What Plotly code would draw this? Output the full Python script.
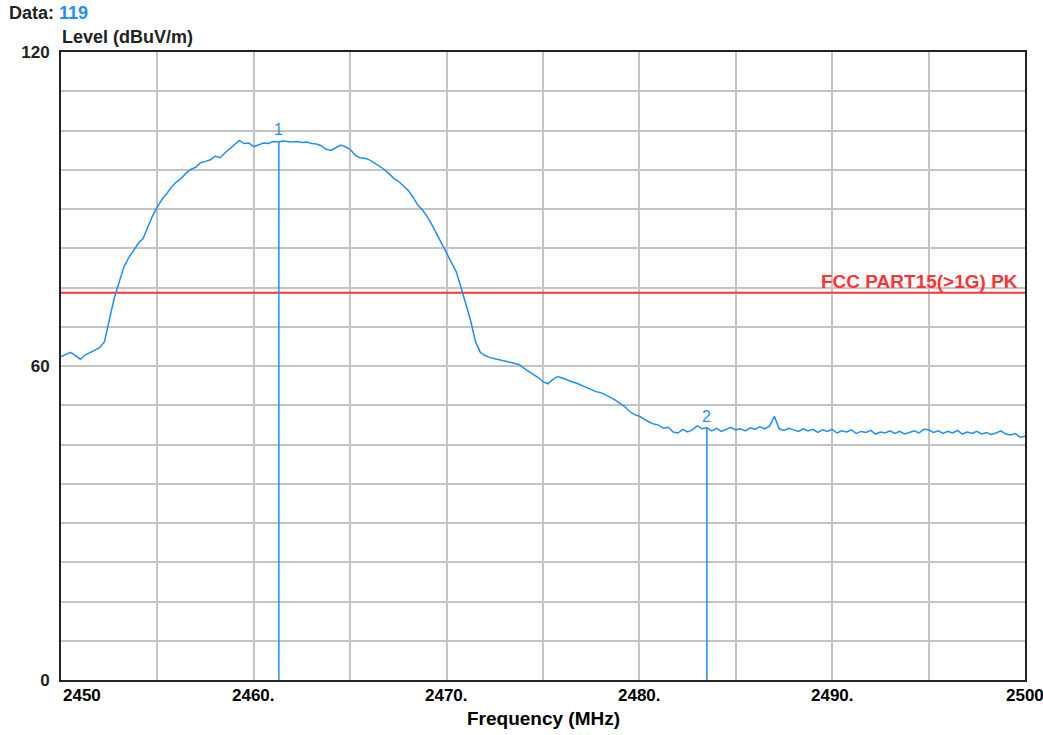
import plotly.graph_objects as go

# sweep: 2450 - 2500 MHz, 0.25 MHz step
freq = [round(2450 + 0.25 * i, 2) for i in range(201)]
level = [
    61.8, 62.2, 62.6, 62.0, 61.3, 62.1, 62.6, 63.0, 63.5, 64.6,   # 2450.00 - 2452.25
    69.0, 72.8, 75.8, 78.8, 80.6, 82.0, 83.4, 84.3, 86.4, 88.7,   # 2452.50 - 2454.75
    90.4, 91.9, 93.0, 94.3, 95.2, 95.9, 96.9, 97.6, 98.0, 98.9,   # 2455.00 - 2457.25
    99.1, 99.4, 100.1, 99.8, 100.7, 101.5, 102.4, 103.1, 102.5, 102.6,
    101.9, 102.2, 102.6, 102.5, 102.9, 102.8, 103.0, 102.9, 102.8, 102.9,
    102.7, 102.8, 102.5, 102.4, 102.1, 101.4, 101.2, 101.7, 102.2, 101.9,
    101.4, 100.3, 99.8, 99.7, 99.4, 98.8, 98.2, 97.6, 96.8, 95.9,
    95.3, 94.5, 93.6, 92.3, 90.8, 89.8, 88.5, 86.9, 85.1, 83.5,
    81.7, 80.0, 78.0, 75.0, 72.0, 68.6, 64.6, 62.6, 62.0, 61.6,
    61.4, 61.2, 61.0, 60.7, 60.5, 60.3, 59.6, 59.0, 58.5, 57.8,
    57.0, 56.6, 57.4, 58.0, 57.7, 57.3, 57.0, 56.7, 56.3, 55.9,
    55.6, 55.1, 54.9, 54.5, 54.0, 53.5, 52.9, 52.2, 51.3, 50.7,
    50.4, 49.8, 49.3, 48.9, 48.7, 48.1, 48.3, 47.4, 47.2, 47.9,
    47.4, 47.8, 48.6, 48.0, 48.2, 47.6, 48.1, 47.5, 47.9, 48.3,
    47.8, 48.0, 47.6, 48.2, 47.9, 48.4, 48.0, 48.5, 50.4, 48.0,
    47.7, 48.1, 47.8, 47.5, 48.0, 47.6, 47.9, 47.3, 47.8, 47.5,
    47.9, 47.2, 47.6, 47.4, 47.8, 47.1, 47.5, 47.3, 47.7, 47.0,
    47.4, 47.2, 47.6, 47.1, 47.5, 47.0, 47.3, 47.6, 47.2, 47.9,
    47.8, 47.3, 47.6, 47.1, 47.5, 47.2, 47.7, 47.0, 47.4, 47.1,
    47.5, 47.0, 47.3, 46.9, 47.2, 47.6, 47.0, 46.8, 47.1, 46.4,
    46.6,
]

limit_level = 74
limit_name = "FCC PART15(>1G) PK"

marker_names = ["1", "2"]
marker_freq = [2461.3, 2483.5]
marker_level = [102.9, 48.2]

x_tick_vals = [2450, 2460, 2470, 2480, 2490, 2500]
x_tick_text = ["2450", "2460.", "2470.", "2480.", "2490.", "2500"]
y_tick_vals = [0, 60, 120]
y_tick_text = ["0", "60", "120"]

blue = "#1E8FFF"
red = "#FF3333"
grid = "#C4C4C4"
sans = "Liberation Sans, Arial"

fig = go.Figure()

fig.add_trace(go.Scatter(x=[freq[0], freq[-1]], y=[limit_level, limit_level], mode="lines",
                         line=dict(color=red, width=2), hoverinfo="skip"))

fig.add_trace(go.Scatter(x=freq, y=level, mode="lines",
                         line=dict(color=blue, width=1.5)))

for f, lv in zip(marker_freq, marker_level):
    fig.add_trace(go.Scatter(x=[f, f], y=[0, lv], mode="lines",
                             line=dict(color=blue, width=1.5), hoverinfo="skip"))

annotations = []
for name, f, lv in zip(marker_names, marker_freq, marker_level):
    annotations.append(dict(x=f, y=lv, text=name, showarrow=False, yanchor="bottom", yshift=1,
                            font=dict(family=sans, size=16, color=blue)))

for i, (v, t) in enumerate(zip(x_tick_vals, x_tick_text)):
    annotations.append(dict(x=v, y=0, yref="paper", text=t, showarrow=False,
                            xanchor="left" if i == 0 else "center", yanchor="top", yshift=-4,
                            font=dict(family=sans, size=17, color="black", weight="bold")))

annotations += [
    dict(x=freq[-1], y=limit_level, text=limit_name, showarrow=False, xanchor="right",
         yanchor="bottom", xshift=-5, yshift=-1,
         font=dict(family=sans, size=19, color=red, weight="bold")),
    dict(x=0.5, y=0, xref="paper", yref="paper", text="Frequency (MHz)", showarrow=False,
         yanchor="top", yshift=-26, font=dict(family=sans, size=19, color="black", weight="bold")),
    dict(x=0, y=1, xref="paper", yref="paper", xanchor="left", yanchor="bottom", xshift=-54, yshift=27,
         text="<b>Data: </b><b><span style='color:%s'>119</span></b>" % blue, showarrow=False,
         font=dict(family=sans, size=18, color="#222")),
    dict(x=0, y=1, xref="paper", yref="paper", xanchor="left", yanchor="bottom", xshift=-1, yshift=3,
         text="<b>Level (dBuV/m)</b>", showarrow=False,
         font=dict(family=sans, size=18, color="#222")),
]

fig.update_layout(
    width=1043, height=735,
    margin=dict(l=61, r=18, t=52, b=55),
    paper_bgcolor="white", plot_bgcolor="white",
    showlegend=False,
    annotations=annotations,
    xaxis=dict(range=[2450, 2500], tickvals=x_tick_vals, showticklabels=False,
               showgrid=True, gridcolor=grid, gridwidth=1.5,
               minor=dict(dtick=5, tick0=2450, showgrid=True, gridcolor=grid, gridwidth=1.5),
               showline=True, linecolor="#222", linewidth=2, mirror=True,
               zeroline=False, ticks="", automargin=False),
    yaxis=dict(range=[0, 120], tickvals=y_tick_vals, ticktext=y_tick_text,
               showgrid=True, gridcolor=grid, gridwidth=1.5,
               minor=dict(dtick=7.5, tick0=0, showgrid=True, gridcolor=grid, gridwidth=1.5),
               showline=True, linecolor="#222", linewidth=2, mirror=True,
               zeroline=False, ticks="", ticklabelstandoff=6, automargin=False,
               tickfont=dict(family=sans, size=17, color="#222", weight="bold")),
)

# drop the default page margin so the figure sits at the window's top-left corner
fig.write_html("out.html", config={"displayModeBar": False},
               post_script="document.body.style.margin='0';")
